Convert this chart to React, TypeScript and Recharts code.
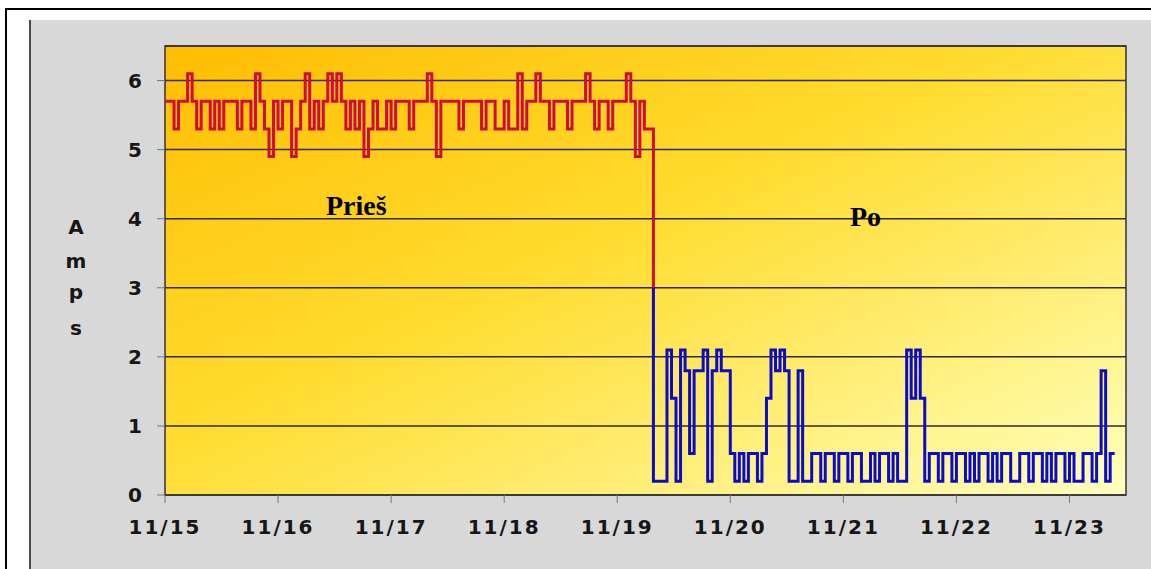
import { type CSSProperties } from 'react'
import {
  LineChart,
  Line,
  XAxis,
  YAxis,
  CartesianGrid,
  ReferenceArea,
} from 'recharts'

// one sample every 0.04 day
const SAMPLE_STEP = 0.04
const DROP_DAY = 4.32

const dayLabels = ['11/15', '11/16', '11/17', '11/18', '11/19', '11/20', '11/21', '11/22', '11/23']
const dayTicks = [0, 1, 2, 3, 4, 5, 6, 7, 8]
const ampTicks = [0, 1, 2, 3, 4, 5, 6]

// before (Prieš): 11/15 .. 11/19 ~08h
const beforeAmps = [
  5.7, 5.7, 5.3, 5.7, 5.7, 6.1, 5.7, 5.3, 5.7, 5.7,
  5.3, 5.7, 5.3, 5.7, 5.7, 5.7, 5.3, 5.7, 5.7, 5.3,
  6.1, 5.7, 5.3, 4.9, 5.7, 5.3, 5.7, 5.7, 4.9, 5.3,
  5.7, 6.1, 5.3, 5.7, 5.3, 5.7, 6.1, 5.7, 6.1, 5.7,
  5.3, 5.7, 5.3, 5.7, 4.9, 5.3, 5.7, 5.3, 5.3, 5.7,
  5.3, 5.7, 5.7, 5.7, 5.3, 5.7, 5.7, 5.7, 6.1, 5.7,
  4.9, 5.7, 5.7, 5.7, 5.7, 5.3, 5.7, 5.7, 5.7, 5.7,
  5.3, 5.7, 5.7, 5.3, 5.3, 5.7, 5.3, 5.3, 6.1, 5.3,
  5.7, 5.7, 6.1, 5.7, 5.7, 5.3, 5.7, 5.7, 5.7, 5.3,
  5.7, 5.7, 5.7, 6.1, 5.7, 5.3, 5.7, 5.7, 5.3, 5.7,
  5.7, 5.7, 6.1, 5.7, 4.9, 5.7, 5.3, 5.3,
]

// after (Po): 11/19 ~08h .. 11/23 ~10h
const afterAmps = [
  0.2, 0.2, 0.2, 2.1, 1.4, 0.2, 2.1, 1.8, 0.6, 1.8,
  1.8, 2.1, 0.2, 1.8, 2.1, 1.8, 1.8, 0.6, 0.2, 0.6,
  0.2, 0.6, 0.6, 0.2, 0.6, 1.4, 2.1, 1.8, 2.1, 1.8,
  0.2, 0.2, 1.8, 0.2, 0.2, 0.6, 0.6, 0.2, 0.6, 0.6,
  0.2, 0.6, 0.6, 0.2, 0.6, 0.6, 0.2, 0.2, 0.6, 0.2,
  0.6, 0.6, 0.2, 0.6, 0.2, 0.2, 2.1, 1.4, 2.1, 1.4,
  0.2, 0.6, 0.6, 0.2, 0.6, 0.6, 0.2, 0.6, 0.6, 0.2,
  0.6, 0.2, 0.6, 0.6, 0.2, 0.6, 0.2, 0.6, 0.6, 0.2,
  0.2, 0.6, 0.6, 0.2, 0.6, 0.6, 0.2, 0.6, 0.2, 0.6,
  0.6, 0.2, 0.6, 0.2, 0.2, 0.6, 0.6, 0.2, 0.6, 1.8,
  0.2, 0.6, 0.6,
]

// where the vertical drop changes colour
const dropJoin = 3.0

const beforeData = [
  ...beforeAmps.map((v, i) => ({ t: i * SAMPLE_STEP, v })),
  { t: DROP_DAY, v: dropJoin },
]
const afterData = [
  { t: DROP_DAY, v: dropJoin },
  ...afterAmps.map((v, i) => ({ t: DROP_DAY + i * SAMPLE_STEP, v })),
]

const tickFont = {
  fill: '#161616',
  fontSize: 20,
  fontWeight: 700,
  fontFamily: '"DejaVu Sans", Verdana, sans-serif',
}

const pageStyle: CSSProperties = {
  position: 'fixed',
  left: 0,
  top: 0,
  width: 1151,
  height: 569,
  background: '#fff',
  overflow: 'hidden',
}

export default function App() {
  return (
    <div style={pageStyle}>
      <div
        style={{
          position: 'absolute', left: 5, top: 8, right: -4, bottom: -4,
          borderLeft: '2px solid #000', borderTop: '2px solid #000',
        }}
      />
      <div
        style={{
          position: 'absolute', left: 29, top: 20, right: 0, bottom: 0,
          background: '#d8d8d8', borderLeft: '2px solid #4a4a4a',
        }}
      />
      <div style={{ position: 'absolute', left: 0, top: 0 }}>
        <LineChart width={1151} height={569} margin={{ top: 46, right: 25, bottom: 34, left: 125 }}>
          <defs>
            <linearGradient id="plotBg" x1="0" y1="0" x2="1" y2="1">
              <stop offset="0%" stopColor="#ffbd00" />
              <stop offset="45%" stopColor="#ffdc30" />
              <stop offset="100%" stopColor="#ffffbc" />
            </linearGradient>
          </defs>
          <CartesianGrid
            vertical={false}
            stroke="#2b2b2b"
            strokeWidth={1.5}
            fill="url(#plotBg)"
            fillOpacity={1}
          />
          <XAxis
            dataKey="t"
            type="number"
            domain={[0, 8.5]}
            ticks={dayTicks}
            tickFormatter={(d: number) => dayLabels[d] ?? ''}
            tick={{ ...tickFont, letterSpacing: 2 }}
            tickSize={8}
            tickMargin={17}
            tickLine={{ stroke: '#777' }}
            axisLine={false}
            height={40}
            allowDataOverflow
          />
          <YAxis
            type="number"
            domain={[0, 6.5]}
            ticks={ampTicks}
            tick={tickFont}
            tickSize={8}
            tickMargin={15}
            tickLine={{ stroke: '#777' }}
            axisLine={false}
            width={40}
            allowDataOverflow
          />
          <ReferenceArea
            x1={0}
            x2={8.5}
            y1={0}
            y2={6.5}
            fill="none"
            stroke="#333"
            strokeWidth={1.5}
            strokeOpacity={1}
          />
          <Line
            data={beforeData}
            dataKey="v"
            type="stepAfter"
            stroke="#cf0c3a"
            strokeWidth={3}
            dot={false}
            isAnimationActive={false}
          />
          <Line
            data={afterData}
            dataKey="v"
            type="stepAfter"
            stroke="#0c0cc8"
            strokeWidth={3}
            dot={false}
            isAnimationActive={false}
          />
        </LineChart>
      </div>
      <svg width={1151} height={569} style={{ position: 'absolute', left: 0, top: 0, pointerEvents: 'none' }}>
        <text
          textAnchor="middle"
          fill="#161616"
          fontSize={20}
          fontWeight={700}
          fontFamily='"DejaVu Sans", Verdana, sans-serif'
        >
          <tspan x={76} y={234}>A</tspan>
          <tspan x={76} y={268}>m</tspan>
          <tspan x={76} y={299}>p</tspan>
          <tspan x={76} y={335}>s</tspan>
        </text>
        <text x={326} y={215} fontSize={28} fontWeight={700} fontFamily='"Liberation Serif", "Times New Roman", serif' fill="#000">
          Prieš
        </text>
        <text x={850} y={226} fontSize={28} fontWeight={700} fontFamily='"Liberation Serif", "Times New Roman", serif' fill="#000">
          Po
        </text>
      </svg>
    </div>
  )
}
